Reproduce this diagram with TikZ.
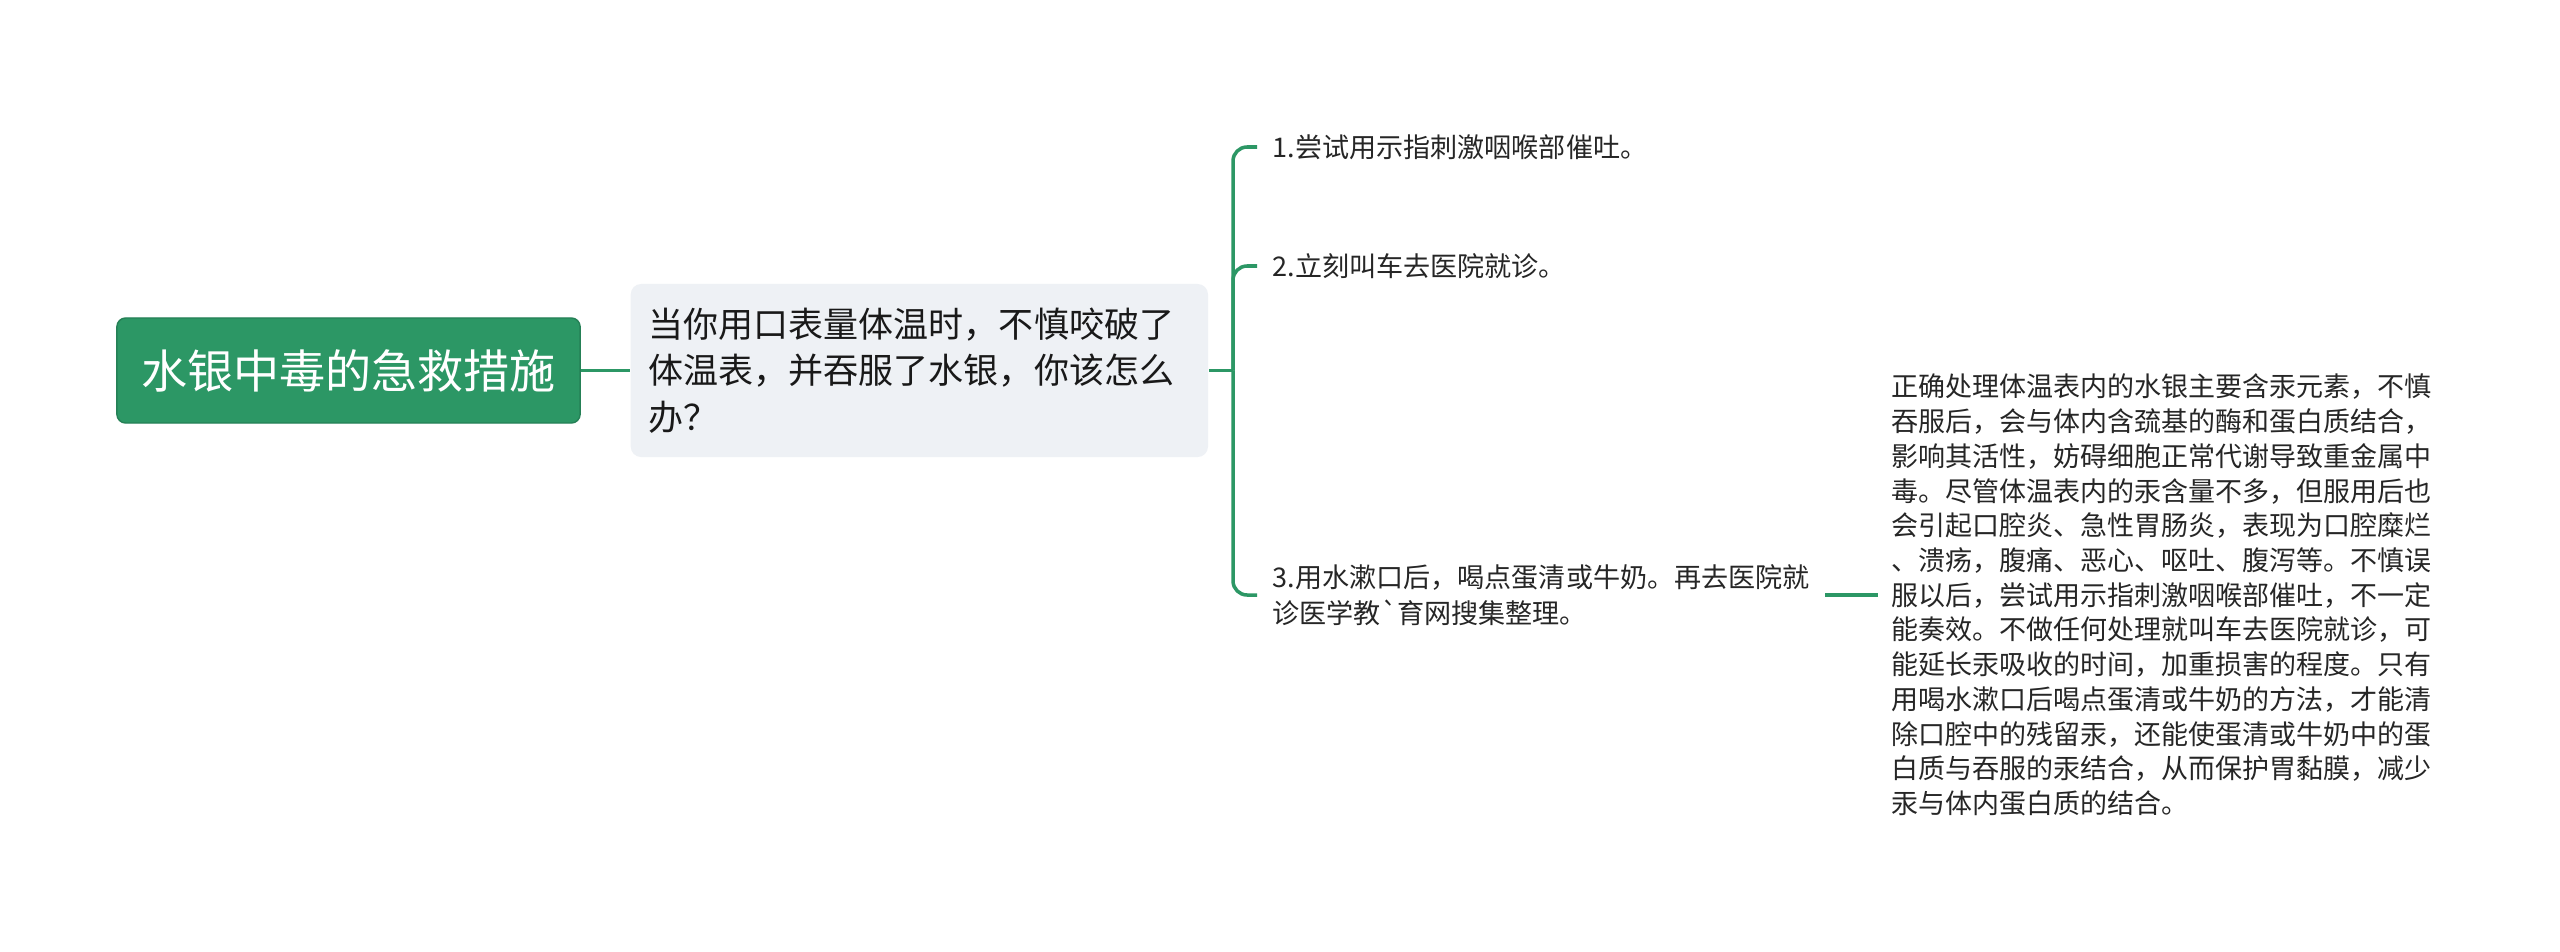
\documentclass[tikz,border=0pt]{standalone}
\usepackage{fontspec}
\setmainfont{Noto Sans CJK SC}
\usepackage{xcolor}
\usetikzlibrary{positioning}
\definecolor{mindgreen}{RGB}{44,151,101}
\definecolor{askgrey}{RGB}{238,241,245}
\definecolor{inkgrey}{RGB}{38,38,38}

\begin{document}
\begin{tikzpicture}[x=0.01cm,y=-0.01cm,
	link/.style={draw=mindgreen,line width=1pt},
	rootbox/.style={fill=mindgreen,draw=mindgreen!85!black,line width=0.4pt,rounded corners=2.5pt,
		minimum width=4.63cm,minimum height=1.05cm,inner sep=0pt,text=white,
		font=\fontsize{13.1pt}{15pt}\selectfont},
	askbox/.style={fill=askgrey,rounded corners=3pt,minimum height=1.73cm,
		inner xsep=0.18cm,inner ysep=0pt,text width=5.41cm,align=left,text=black!90,
		font=\fontsize{9.96pt}{13.23pt}\selectfont},
	leaf/.style={inner xsep=0.15cm,inner ysep=2pt,align=left,text=inkgrey,
		font=\fontsize{7.7pt}{10.2pt}\selectfont},
	note/.style={inner xsep=0.13cm,inner ysep=2pt,align=left,text=inkgrey,
		font=\fontsize{7.68pt}{9.87pt}\selectfont}]
	\fill[white] (0,0) rectangle (2560,951);
	\useasboundingbox (0,0) rectangle (2560,951);
	\node[rootbox] (root) at (348.5,370.5) {水银中毒的急救措施};
	\node[askbox,anchor=west] (ask) at (630,370.5) {当你用口表量体温时，不慎咬破了\\体温表，并吞服了水银，你该怎么\\办？};
	\coordinate (fork) at (1233,370.5);
	\node[leaf,anchor=west] (s1) at (1257,147) {1.尝试用示指刺激咽喉部催吐。};
	\node[leaf,anchor=west] (s2) at (1257,266) {2.立刻叫车去医院就诊。};
	\node[leaf,anchor=west] (s3) at (1257,595) {3.用水漱口后，喝点蛋清或牛奶。再去医院就\\诊医学教\textasciigrave 育网搜集整理。};
	\node[note,anchor=west] (s3n) at (1878,595) {正确处理体温表内的水银主要含汞元素，不慎\\
		吞服后，会与体内含巯基的酶和蛋白质结合，\\
		影响其活性，妨碍细胞正常代谢导致重金属中\\
		毒。尽管体温表内的汞含量不多，但服用后也\\
		会引起口腔炎、急性胃肠炎，表现为口腔糜烂\\
		、溃疡，腹痛、恶心、呕吐、腹泻等。不慎误\\
		服以后，尝试用示指刺激咽喉部催吐，不一定\\
		能奏效。不做任何处理就叫车去医院就诊，可\\
		能延长汞吸收的时间，加重损害的程度。只有\\
		用喝水漱口后喝点蛋清或牛奶的方法，才能清\\
		除口腔中的残留汞，还能使蛋清或牛奶中的蛋\\
		白质与吞服的汞结合，从而保护胃黏膜，减少\\
		汞与体内蛋白质的结合。};
	\draw[link] (root) -- (ask);
	\draw[link] (ask.east) -- (fork);
	\foreach \leafname in {s1,s2,s3} {
		\draw[link,rounded corners=4pt] (fork) |- (\leafname.west);
	}
	\draw[link] (s3.east) -- (s3n.west);
\end{tikzpicture}
\end{document}
